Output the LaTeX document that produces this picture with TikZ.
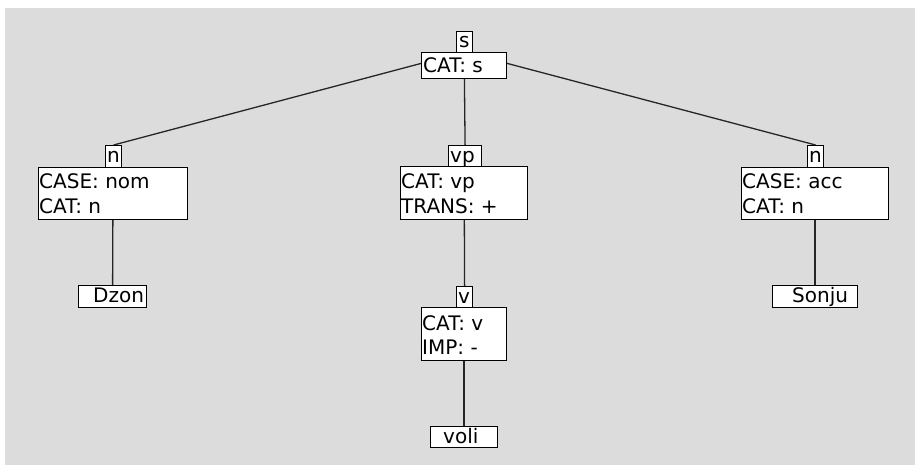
\documentclass[tikz,border=0pt]{standalone}
\usepackage{fontspec}
\setmainfont{DejaVu Sans}
\definecolor{bggray}{RGB}{220,220,220}
\pgfdeclarelayer{back}
\pgfsetlayers{back,main}
\begin{document}
\begin{tikzpicture}[x=1pt,y=-1pt,
  box/.style={draw=black, line width=1.2pt, fill=white, rectangle, inner sep=0pt, anchor=north west},
  txt/.style={anchor=base west, inner sep=0pt, font=\fontsize{20}{24}\selectfont},
  edge/.style={draw=black!85, line width=1.3pt}]
\useasboundingbox (0,0) rectangle (915,465);
% root
\node[box, minimum width=16pt, minimum height=21pt] (sL) at (456,31) {};
\node[box, minimum width=85pt, minimum height=26pt] (sB) at (421,52) {};
\node[txt] at (459,48) {s};
\node[txt] at (423,73) {CAT: s};
% left n
\node[box, minimum width=16pt, minimum height=22pt] (nlL) at (105,145) {};
\node[box, minimum width=149pt, minimum height=52pt] (nlB) at (38,167) {};
\node[txt] at (107,163) {n};
\node[txt] at (39,189) {CASE: nom};
\node[txt] at (39,213) {CAT: n};
% vp
\node[box, minimum width=33pt, minimum height=21pt] (vpL) at (448,145) {};
\node[box, minimum width=127pt, minimum height=53pt] (vpB) at (400,166) {};
\node[txt] at (450,163) {vp};
\node[txt] at (401,189) {CAT: vp};
\node[txt] at (401,213) {TRANS: +};
% right n
\node[box, minimum width=16pt, minimum height=22pt] (nrL) at (807,145) {};
\node[box, minimum width=147pt, minimum height=52pt] (nrB) at (741,167) {};
\node[txt] at (809,163) {n};
\node[txt] at (742,189) {CASE: acc};
\node[txt] at (742,213) {CAT: n};
% v
\node[box, minimum width=16pt, minimum height=21pt] (vL) at (456,286) {};
\node[box, minimum width=85pt, minimum height=53pt] (vB) at (421,307) {};
\node[txt] at (458,303) {v};
\node[txt] at (422,330) {CAT: v};
\node[txt] at (422,354) {IMP: -};
% leaves
\node[box, minimum width=68pt, minimum height=22pt] (dzon) at (78,285) {};
\node[txt] at (93,302) {Dzon};
\node[box, minimum width=67pt, minimum height=21pt] (voli) at (430,426) {};
\node[txt] at (443,443) {voli};
\node[box, minimum width=85pt, minimum height=22pt] (sonju) at (772,285) {};
\node[txt] at (792,302) {Sonju};
\begin{pgfonlayer}{back}
\fill[bggray] (5,8) rectangle (915,465);
\draw[edge] (sB.north) -- (nlL.north);
\draw[edge] (sB.north) -- (vpL.north);
\draw[edge] (sB.north) -- (nrL.north);
\draw[edge] (nlB.north) -- (dzon.north);
\draw[edge] (vpB.north) -- (vL.north);
\draw[edge] (vB.north) -- (voli.north);
\draw[edge] (nrB.north) -- (sonju.north);
\end{pgfonlayer}
\end{tikzpicture}
\end{document}
